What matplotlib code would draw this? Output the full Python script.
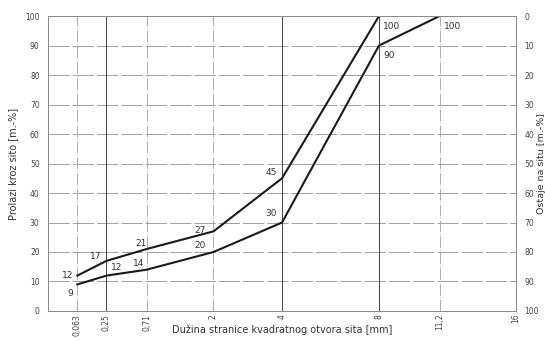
import matplotlib.pyplot as plt
import numpy as np

# sieve sizes [mm] and passing percentages
sieves = [0.063, 0.25, 0.71, 2, 4, 8, 11.2, 16]
sieve_labels = ['0,063', '0,25', '0,71', '2', '4', '8', '11,2', '16']
upper_x = [0.063, 0.25, 0.71, 2, 4, 8]
upper_y = [12, 17, 21, 27, 45, 100]
lower_x = [0.063, 0.25, 0.71, 2, 4, 8, 11.2]
lower_y = [9, 12, 14, 20, 30, 90, 100]

plt.rcParams['font.family'] = 'DejaVu Sans'

fig = plt.figure(figsize=(5.45, 3.41), dpi=100)
ax = fig.add_axes([0.088, 0.088, 0.859, 0.865])

# square-root spacing of the sieve axis
ax.set_xscale('function', functions=(lambda x: np.sqrt(np.clip(x, 0, None)), lambda x: x ** 2))
ax.set_xlim(0, 16)
ax.set_ylim(0, 100)

for y in range(10, 100, 10):
    ax.axhline(y, color='#a0a0a0', lw=0.7, ls=(0, (22, 3)), zorder=1)
for s in sieves:
    dark = s in (0.25, 4, 8)
    ax.axvline(s, color='#444444' if dark else '#a0a0a0', lw=0.7 if dark else 0.6,
               ls='-' if dark else (0, (14, 2, 1, 2)), zorder=1)

ax.plot(upper_x, upper_y, color='#1a1a1a', lw=1.5, zorder=3)
ax.plot(lower_x, lower_y, color='#1a1a1a', lw=1.5, zorder=3)

lab = dict(fontsize=6.5, color='#333333')
up_off = [(-11, -2), (-12, 1), (-8, 2), (-14, -1), (-12, 2), (3, -9)]
lo_off = [(-7, -8), (3, 4), (-10, 3), (-14, 3), (-12, 5), (3, -9), (3, -9)]
for x, y, (dx, dy) in zip(upper_x, upper_y, up_off):
    ax.annotate(str(y), (x, y), xytext=(dx, dy), textcoords='offset points', **lab)
for x, y, (dx, dy) in zip(lower_x, lower_y, lo_off):
    ax.annotate(str(y), (x, y), xytext=(dx, dy), textcoords='offset points', **lab)

ax.set_xticks(sieves)
ax.set_xticklabels(sieve_labels, rotation=90, fontsize=4.2, color='#444444')
ax.set_yticks(range(0, 101, 10))
ax.tick_params(axis='both', length=0, labelsize=5.5, labelcolor='#444444', pad=6)
ax.tick_params(axis='x', pad=2)

ax2 = ax.twinx()
ax2.set_ylim(100, 0)
ax2.set_yticks(range(0, 101, 10))
ax2.tick_params(length=0, labelsize=5.5, labelcolor='#444444', pad=6)
ax2.set_ylabel('Ostaje na situ [m.-%]', fontsize=6.8, color='#333333',
               va='center', rotation=90)
ax2.yaxis.set_label_coords(1.054, 0.5)

for a in (ax, ax2):
    for sp in a.spines.values():
        sp.set_color('#8a8a8a')
        sp.set_linewidth(0.7)

ax.set_ylabel('Prolazi kroz sito [m.-%]', fontsize=7, color='#333333', labelpad=5)
ax.set_xlabel('Dužina stranice kvadratnog otvora sita [mm]', fontsize=7, color='#333333')
ax.xaxis.set_label_coords(0.5, -0.045)

fig.savefig('out.png', dpi=100)
